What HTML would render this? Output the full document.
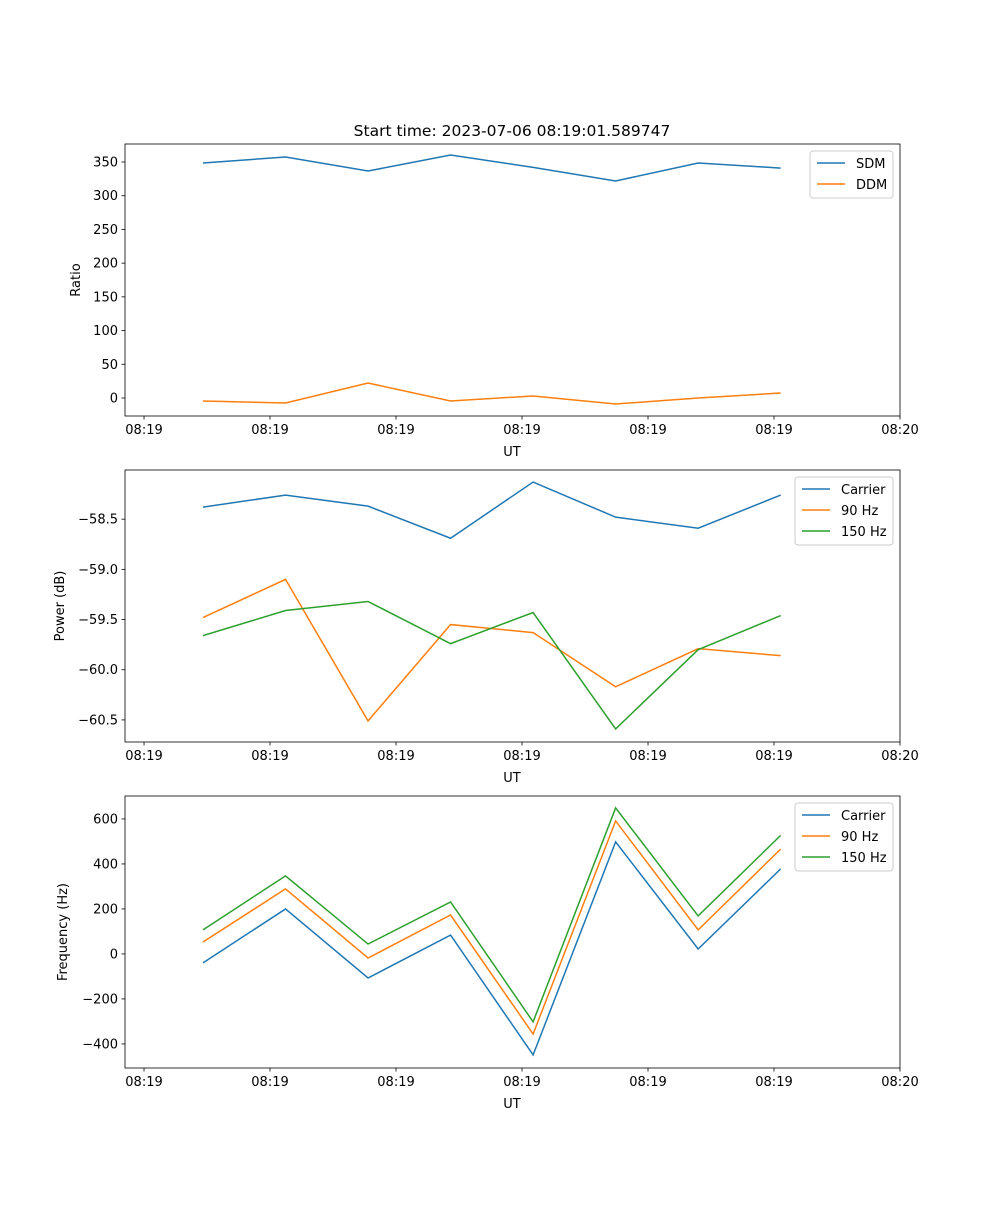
<!DOCTYPE html>
<html><head><meta charset="utf-8"><style>
body{margin:0;background:#fff}
svg text{font-family:"DejaVu Sans","Liberation Sans",sans-serif;font-size:13px;fill:#000}
</style></head><body>
<svg id="fig" width="1000" height="1200" xmlns="http://www.w3.org/2000/svg">
<rect width="1000" height="1200" fill="#fff"/>
<text x="512" y="136" text-anchor="middle" font-size="15.5" style="font-size:15.5px">Start time: 2023-07-06 08:19:01.589747</text>
</svg>
<script>
const times = [4.68, 11.23, 17.78, 24.33, 30.88, 37.43, 43.98, 50.53];
const xTicks = [0, 10, 20, 30, 40, 50, 60];
const xTickLabels = ["08:19","08:19","08:19","08:19","08:19","08:19","08:20"];
const sdm = [348.5, 357.4, 336.6, 360.4, 342, 321.8, 348.5, 341];
const ddm = [-4.4, -7.4, 22.2, -4.4, 3, -8.9, 0, 7.4];
const pwrCarrier = [-58.38, -58.26, -58.37, -58.69, -58.13, -58.48, -58.59, -58.26];
const pwr90 = [-59.48, -59.10, -60.51, -59.55, -59.63, -60.17, -59.79, -59.86];
const pwr150 = [-59.66, -59.41, -59.32, -59.74, -59.43, -60.59, -59.80, -59.46];
const frqCarrier = [-40, 200, -107, 84, -449, 498, 22, 378];
const frq90 = [53, 289, -18, 173, -356, 591, 107, 466];
const frq150 = [107, 347, 44, 231, -302, 649, 169, 527];
const ticks1 = [0,50,100,150,200,250,300,350];
const ticks2 = [-58.5,-59.0,-59.5,-60.0,-60.5];
const ticks3 = [-400,-200,0,200,400,600];

const NS="http://www.w3.org/2000/svg", svg=document.getElementById('fig');
function mk(t,a,p){const e=document.createElementNS(NS,t);for(const k in a)e.setAttribute(k,a[k]);(p||svg).appendChild(e);return e;}
const X0=125,X1=900,xd=[-1.51,60];
const xs=v=>X0+(v-xd[0])/(xd[1]-xd[0])*(X1-X0);
const C=['#1f77b4','#ff7f0e','#2ca02c'];

function panel(name,top,yd,ticks,fmt,ylab,series,labels,leg){
  const bot=top+272;
  const ys=v=>bot-(v-yd[0])/(yd[1]-yd[0])*272;
  const g=mk('g',{});
  
  
  series.forEach((s,i)=>{
    const p=mk('polyline',{points:s.map((v,j)=>xs(times[j])+','+ys(v)).join(' '),fill:'none',stroke:C[i],'stroke-width':1.5},g);
    
    
  });
  mk('rect',{x:X0,y:top,width:X1-X0,height:272,fill:'none',stroke:'#000','stroke-width':0.8},g);
  xTicks.forEach((t,i)=>{const x=xs(t);
    mk('line',{x1:x,x2:x,y1:bot,y2:bot+3.5,stroke:'#000','stroke-width':0.8},g);
    const tx=mk('text',{x:x,y:bot+18,'text-anchor':'middle'},g);tx.textContent=xTickLabels[i];
    
    
  });
  const xl=mk('text',{x:512,y:bot+40,'text-anchor':'middle'},g);xl.textContent='UT';
  
  
  ticks.forEach(t=>{const y=ys(t);
    mk('line',{x1:X0-3.5,x2:X0,y1:y,y2:y,stroke:'#000','stroke-width':0.8},g);
    const tx=mk('text',{x:X0-7,y:y+4.5,'text-anchor':'end'},g);tx.textContent=fmt(t);
    
    
  });
  const cy=(top+bot)/2;
  const yl=mk('text',{x:leg.yl,y:cy,'text-anchor':'middle',transform:`rotate(-90 ${leg.yl} ${cy})`},g);yl.textContent=ylab;
  
  
  const lg=mk('g',{},g);
  
  
  mk('rect',{x:leg.x,y:top+7,width:893-leg.x,height:labels.length*21+5,rx:3,fill:'#fff',stroke:'#ccc','stroke-width':1},lg);
  labels.forEach((l,i)=>{const y=top+19+i*21;
    mk('line',{x1:leg.x+7,x2:leg.x+35,y1:y,y2:y,stroke:C[i],'stroke-width':1.5},lg);
    const tx=mk('text',{x:leg.x+46,y:y+5},lg);tx.textContent=l;
    
    
  });
}
const m=v=>String(v).replace('-','\u2212');
panel('ratio',144,[-26.7,376.7],ticks1,v=>m(v),'Ratio',[sdm,ddm],['SDM','DDM'],{x:810,yl:80});
panel('power',470,[-60.72,-58.01],ticks2,v=>m(v.toFixed(1)),'Power (dB)',[pwrCarrier,pwr90,pwr150],['Carrier','90 Hz','150 Hz'],{x:795,yl:64});
panel('frequency',796,[-507,702],ticks3,v=>m(v),'Frequency (Hz)',[frqCarrier,frq90,frq150],['Carrier','90 Hz','150 Hz'],{x:795,yl:67});
</script>
</body></html>
